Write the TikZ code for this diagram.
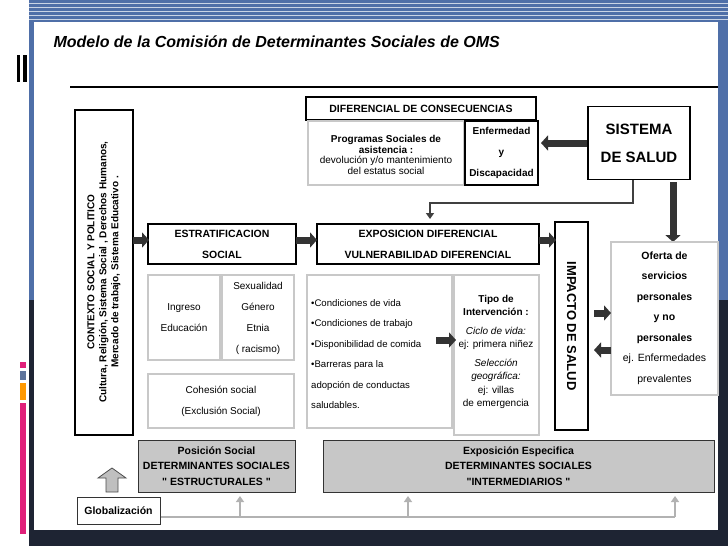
\documentclass[tikz,border=0pt]{standalone}
\usepackage{fontspec}
\setmainfont{Liberation Sans}
\usetikzlibrary{arrows.meta}
\definecolor{slideblue}{HTML}{4F6FA8}
\definecolor{slidedark}{HTML}{1E2433}
\definecolor{fatgray}{HTML}{333333}
\definecolor{boxgray}{HTML}{C8C8C8}
\definecolor{barpink}{HTML}{E0207A}
\tikzset{
  blackbox/.style={draw=black, line width=1.6pt, fill=white},
  softbox/.style={draw=boxgray, line width=1.4pt, fill=white},
  graybox/.style={draw=fatgray, line width=1pt, fill=black!22},
  fat/.style={draw=fatgray, line width=7pt, -{Triangle[length=7pt,width=15pt]}},
  thin/.style={draw=black!75, line width=1.6pt, -{Triangle[length=6pt,width=8pt]}},
  lightup/.style={draw=black!30, line width=1.3pt, -{Triangle[length=6pt,width=8pt]}},
  txt/.style={align=center, inner sep=0pt}
}
\newcommand{\fs}[2]{\fontsize{#1}{#2}\selectfont}
\begin{document}
\begin{tikzpicture}[x=1pt, y=-1pt]
\useasboundingbox (0,0) rectangle (728,546);
% slide frame
\fill[white] (0,0) rectangle (728,546);
\fill[slideblue] (29,0) rectangle (728,22);
\fill[slideblue] (29,22) rectangle (34,300);
\fill[slidedark] (29,300) rectangle (34,546);
\fill[slideblue] (718,22) rectangle (728,300);
\fill[slidedark] (718,300) rectangle (728,546);
\fill[slidedark] (29,530) rectangle (728,546);
\foreach \y in {3,7,...,19} \draw[white!70!slideblue, line width=0.4pt] (29,\y) -- (728,\y);
\fill[black] (17,55) rectangle (20,82);
\fill[black] (23,55) rectangle (27,82);
\fill[barpink] (20,362) rectangle (26,368);
\fill[slideblue!70!gray] (20,371) rectangle (26,380);
\fill[orange!80!yellow] (20,383) rectangle (26,400);
\fill[barpink] (20,403) rectangle (26,534);
\node[anchor=west, font=\fs{16}{18}\bfseries\itshape] (title) at (50,42) {Modelo de la Comisión de Determinantes Sociales de OMS};
\draw[line width=1.3pt] (70,87) -- (718,87);

% context and globalization
\draw[blackbox] (75,110) rectangle (133,435);
\node[txt, rotate=90, font=\fs{10}{12}\bfseries] (contexto) at (104,272)
  {CONTEXTO SOCIAL Y POLITICO\\Cultura, Religión, Sistema  Social , Derechos Humanos,\\Mercado de trabajo, Sistema Educativo .};
\node[draw=black!80, line width=1pt, txt, font=\fs{10.5}{12}\bfseries, minimum width=83pt, minimum height=27pt] (glob) at (118.5,511) {Globalización};
\draw[draw=black!70, line width=0.8pt, fill=black!25] (106,492) -- (106,478) -- (98,478) -- (112,468) -- (126,478) -- (118,478) -- (118,492) -- cycle;

% consequences
\draw[blackbox] (306,97) rectangle (536,120);
\node[txt, font=\fs{10.5}{12}\bfseries] (difcons) at (421,108.5) {DIFERENCIAL DE CONSECUENCIAS};
\draw[softbox] (308,121) rectangle (464,185);
\node[txt, font=\fs{10}{10.5}] (programas) at (386,155)
  {\textbf{Programas  Sociales de}\\\textbf{asistencia :}\\devolución y/o mantenimiento\\del estatus social};
\draw[blackbox, line width=1.2pt] (465,121) rectangle (538,185);
\node[txt, font=\fs{10}{21}\bfseries] (enfermedad) at (501.5,153) {Enfermedad\\y\\Discapacidad};
\node[blackbox, minimum width=102pt, minimum height=73pt, align=center,
  font=\fs{15}{28}\bfseries] (sistema) at (639,143) {SISTEMA\\DE SALUD};
\draw[fat] (sistema.west) -- (541,143);
\draw[fat] (673,182) -- (673,242);
\coordinate (bend) at (633,203);
\draw[thin] (633,180) -- (bend) -- (430,203) -- (430,219);

% main row
\draw[blackbox] (148,224) rectangle (296,264);
\node[txt, font=\fs{10.5}{21}\bfseries] (estrat) at (222,244) {ESTRATIFICACION\\SOCIAL};
\draw[blackbox] (317,224) rectangle (539,264);
\node[txt, font=\fs{10.5}{21}\bfseries] (expo) at (428,244) {EXPOSICION  DIFERENCIAL\\VULNERABILIDAD DIFERENCIAL};
\draw[blackbox, line width=2pt] (555,222) rectangle (588,430);
\node[txt, rotate=-90, font=\fs{13}{14}\bfseries] (impacto) at (571.5,326) {IMPACTO DE SALUD};
\draw[fat] (133,240) -- (149,240);
\draw[fat] (296,240) -- (317,240);
\draw[fat] (539,240) -- (556,240);

% detail boxes
\draw[softbox] (148,275) rectangle (220,360);
\node[txt, font=\fs{10}{21}] (ingreso) at (184,318) {Ingreso\\Educación};
\draw[softbox] (222,275) rectangle (294,360);
\node[txt, font=\fs{10}{21}] (sexualidad) at (258,318) {Sexualidad\\Género\\Etnia\\( racismo)};
\draw[softbox] (148,374) rectangle (294,428);
\node[txt, font=\fs{10}{21}] (cohesion) at (221,401) {Cohesión social\\(Exclusión Social)};
\draw[softbox] (307,275) rectangle (452,428);
\node[txt, align=left, anchor=north west, font=\fs{9.6}{20.5}] (condiciones) at (311,299)
  {•Condiciones de vida\\•Condiciones  de trabajo\\•Disponibilidad de comida\\•Barreras para la\\adopción  de conductas\\saludables.};
\draw[softbox] (454,275) rectangle (539,435);
\node[txt, font=\fs{10}{13.5}] (tipo) at (496,352)
  {\textbf{Tipo de}\\\textbf{Intervención :}\\[5pt]\textit{Ciclo de vida:}\\ej: primera niñez\\[5pt]\textit{Selección}\\\textit{geográfica:}\\ej: villas\\de emergencia};
\draw[fat] (436,340) -- (456,340);
\draw[softbox] (611,242) rectangle (718,395);
\node[txt, font=\fs{10.5}{20.5}] (oferta) at (664.5,318)
  {\textbf{Oferta de}\\\textbf{servicios}\\\textbf{personales}\\\textbf{y no}\\\textbf{personales}\\ej. Enfermedades\\prevalentes};
\draw[fat] (594,313) -- (611,313);
\draw[fat] (611,350) -- (594,350);

% bottom bands
\node[graybox, minimum width=157pt, minimum height=52pt] (posicion) at (216.5,466) {};
\node[txt, font=\fs{10.5}{15.5}\bfseries] at (posicion) {Posición Social\\DETERMINANTES SOCIALES\\\textquotedbl{} ESTRUCTURALES \textquotedbl};
\node[graybox, minimum width=391pt, minimum height=52pt] (especifica) at (518.5,466) {};
\node[txt, font=\fs{10.5}{15.5}\bfseries] at (especifica) {Exposición Especifica\\DETERMINANTES SOCIALES\\\textquotedbl INTERMEDIARIOS \textquotedbl};
\draw[draw=black!30, line width=1.3pt] (glob.east |- 0,517) -- (675,517);
\foreach \x in {240,408,675} \draw[lightup] (\x,517) -- (\x,496);
\end{tikzpicture}
\end{document}
